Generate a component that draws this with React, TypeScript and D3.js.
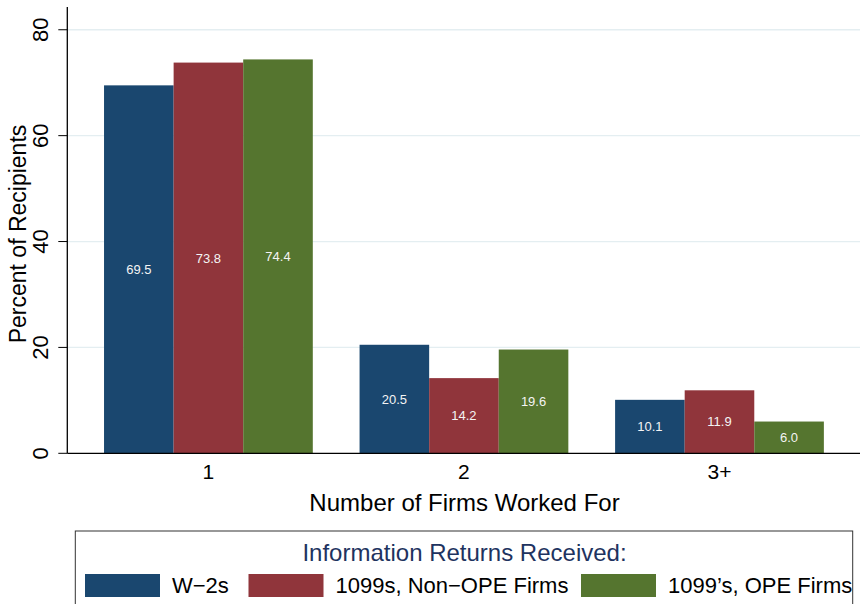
import * as d3 from "d3";

// values
const categories = ["1", "2", "3+"];
const seriesNames = ["W\u22122s", "1099s, Non\u2212OPE Firms", "1099\u2019s, OPE Firms"];
const w2Values = [69.5, 20.5, 10.1];
const nonOpeValues = [73.8, 14.2, 11.9];
const opeValues = [74.4, 19.6, 6.0];
const yTicks = [0, 20, 40, 60, 80];
const colors = ["#1a476f", "#90353b", "#55752f"];

const width = 860;
const height = 604;
const font = "'Liberation Sans', Arial, Helvetica, sans-serif";

const plot = { left: 67.3, right: 860, top: 7, bottom: 453.3 };

const App = () => {
  const seriesValues = [w2Values, nonOpeValues, opeValues];

  const xScale = d3
    .scaleBand<string>()
    .domain(categories)
    .range([80.65, 847.25])
    .paddingInner(0.183)
    .paddingOuter(0.0915);

  const xSub = d3
    .scaleBand<number>()
    .domain(d3.range(seriesNames.length))
    .range([0, xScale.bandwidth()]);

  const yScale = d3.scaleLinear().domain([0, 84.3]).range([plot.bottom, plot.top]);

  const fmt = d3.format(".1f");

  // legend column starts (Stata lays them out by text width)
  const legendX = [85, 248.5, 581];

  return (
    <svg
      width={width}
      height={height}
      viewBox={`0 0 ${width} ${height}`}
      style={{ position: "absolute", left: 0, top: 0, background: "#fff" }}
      fontFamily={font}
    >
      {/* grid */}
      <g className="grid">
        {yTicks
          .filter((t) => t > 0)
          .map((t) => (
            <line
              key={t}
              x1={plot.left}
              x2={plot.right}
              y1={yScale(t)}
              y2={yScale(t)}
              stroke="#e4eef1"
              strokeWidth={1.3}
            />
          ))}
      </g>

      {/* bars */}
      <g className="bars">
        {categories.map((c, ci) =>
          seriesValues.map((vals, si) => {
            const x = (xScale(c) ?? 0) + (xSub(si) ?? 0);
            const y = yScale(vals[ci]);
            return (
              <g key={`${c}-${si}`}>
                <rect
                  x={x}
                  y={y}
                  width={xSub.bandwidth()}
                  height={yScale(0) - y}
                  fill={colors[si]}
                />
                <text
                  x={x + xSub.bandwidth() / 2}
                  y={(y + yScale(0)) / 2}
                  dy="0.36em"
                  textAnchor="middle"
                  fontSize={13}
                  fill="#f4f4f4"
                >
                  {fmt(vals[ci])}
                </text>
              </g>
            );
          })
        )}
      </g>

      {/* y axis */}
      <g className="y-axis">
        <line x1={plot.left} x2={plot.left} y1={plot.top} y2={plot.bottom} stroke="#000" strokeWidth={1.3} />
        {yTicks.map((t) => (
          <g key={t}>
            <line x1={plot.left - 9} x2={plot.left} y1={yScale(t)} y2={yScale(t)} stroke="#000" strokeWidth={1} />
            <text
              transform={`translate(47.5,${yScale(t)}) rotate(-90)`}
              textAnchor="middle"
              fontSize={22}
              fill="#000"
            >
              {t}
            </text>
          </g>
        ))}
        <text
          transform={`translate(26,234) rotate(-90)`}
          textAnchor="middle"
          fontSize={23}
          fill="#000"
        >
          Percent of Recipients
        </text>
      </g>

      {/* x axis */}
      <g className="x-axis">
        <line x1={plot.left} x2={plot.right} y1={plot.bottom} y2={plot.bottom} stroke="#000" strokeWidth={1.3} />
        {categories.map((c) => (
          <text
            key={c}
            x={(xScale(c) ?? 0) + xScale.bandwidth() / 2}
            y={479}
            textAnchor="middle"
            fontSize={21}
            fill="#000"
          >
            {c}
          </text>
        ))}
        <text x={464.5} y={511} textAnchor="middle" fontSize={24} fill="#000">
          Number of Firms Worked For
        </text>
      </g>

      {/* legend */}
      <g className="legend">
        <rect x={75.3} y={531} width={777.4} height={90} fill="#fff" stroke="#333" strokeWidth={1} />
        <text x={464.5} y={560.5} textAnchor="middle" fontSize={24} fill="#1e3360">
          Information Returns Received:
        </text>
        {seriesNames.map((name, i) => (
          <g key={name} transform={`translate(${legendX[i]},574)`}>
            <rect width={75} height={23} fill={colors[i]} />
            <text x={87} y={19} fontSize={22} fill="#000">
              {name}
            </text>
          </g>
        ))}
      </g>
    </svg>
  );
};

export default App;
